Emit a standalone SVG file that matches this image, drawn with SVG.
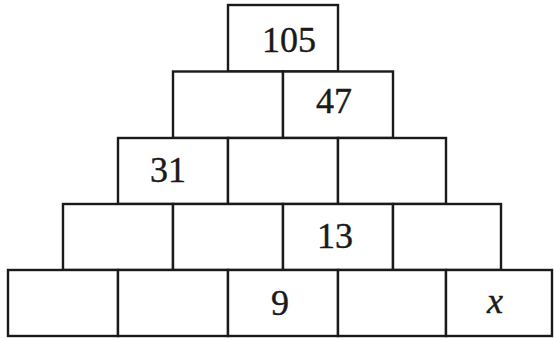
<svg xmlns="http://www.w3.org/2000/svg" width="554" height="338" viewBox="0 0 554 338">
<style>
rect.b{fill:#fff;stroke:#1a1a1a;stroke-width:2.4}
text{font-family:"Liberation Serif","Times New Roman",serif;font-size:36px;fill:#1a1a1a;stroke:#1a1a1a;stroke-width:0.4;text-anchor:middle}
text.i{font-style:italic}
</style>
<rect width="554" height="338" fill="#fff"/>
<g id="connectors"/>
<g id="r1c1"><rect class="b" x="228" y="5" width="110" height="66.5"/><text x="289" y="52">105</text></g>
<g id="r2c1"><rect class="b" x="173" y="71.5" width="110" height="66.5"/></g>
<g id="r2c2"><rect class="b" x="283" y="71.5" width="110" height="66.5"/><text x="334" y="113">47</text></g>
<g id="r3c1"><rect class="b" x="118" y="138" width="110" height="66"/><text x="168" y="182">31</text></g>
<g id="r3c2"><rect class="b" x="228" y="138" width="110" height="66"/></g>
<g id="r3c3"><rect class="b" x="338" y="138" width="108" height="66"/></g>
<g id="r4c1"><rect class="b" x="63" y="204" width="110" height="66"/></g>
<g id="r4c2"><rect class="b" x="173" y="204" width="110" height="66"/></g>
<g id="r4c3"><rect class="b" x="283" y="204" width="110" height="66"/><text x="335" y="248">13</text></g>
<g id="r4c4"><rect class="b" x="393" y="204" width="108" height="66"/></g>
<g id="r5c1"><rect class="b" x="8" y="270" width="110" height="66"/></g>
<g id="r5c2"><rect class="b" x="118" y="270" width="110" height="66"/></g>
<g id="r5c3"><rect class="b" x="228" y="270" width="110" height="66"/><text x="280" y="315">9</text></g>
<g id="r5c4"><rect class="b" x="338" y="270" width="108" height="66"/></g>
<g id="r5c5"><rect class="b" x="446" y="270" width="106" height="66"/><text class="i" x="495" y="313">x</text></g>
</svg>
